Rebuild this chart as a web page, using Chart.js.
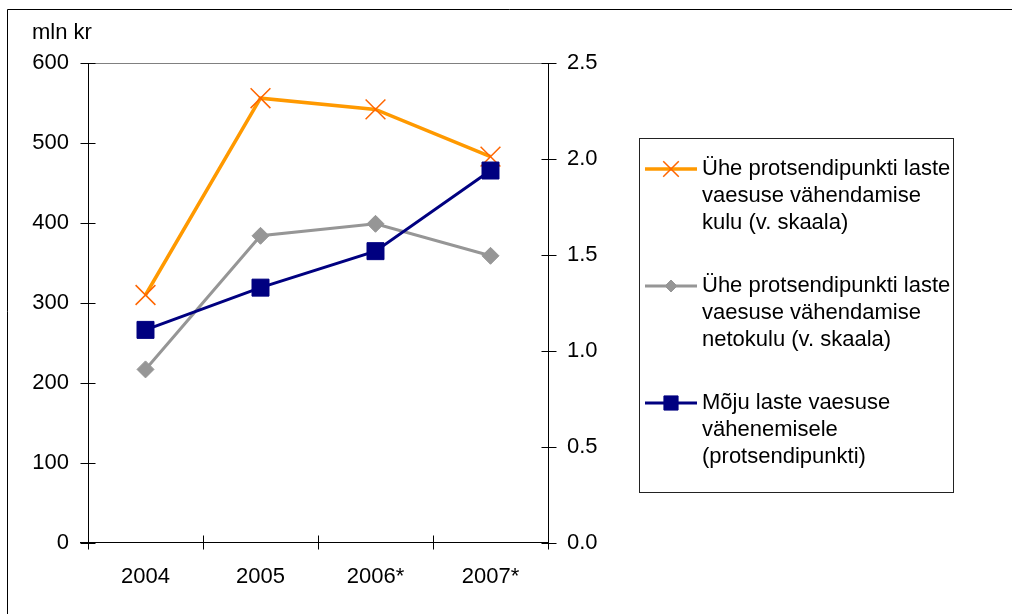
<!DOCTYPE html>
<html>
<head>
<meta charset="utf-8">
<script src="https://cdn.jsdelivr.net/npm/chart.js@4.4.0/dist/chart.umd.min.js"></script>
<style>
    html, body { margin: 0; padding: 0; background: #fff; }
    #wrap { width: 1012px; height: 614px; position: relative; }
</style>
</head>
<body>
<div id="wrap"><canvas id="chart" width="1012" height="614"></canvas></div>
<script>
// --- Data ---
const years = ['2004', '2005', '2006*', '2007*'];
const costValues = [310, 556, 542, 483];        // mln kr, left scale
const netCostValues = [217, 384, 399, 359];     // mln kr, left scale
const impactValues = [1.11, 1.33, 1.52, 1.94];  // percentage points, right scale
const leftTickValues = [0, 100, 200, 300, 400, 500, 600];
const rightTickValues = [0, 0.5, 1.0, 1.5, 2.0, 2.5];
const unitLabel = 'mln kr';
const legendLines = [
    ['Ühe protsendipunkti laste', 'vaesuse vähendamise', 'kulu (v. skaala)'],
    ['Ühe protsendipunkti laste', 'vaesuse vähendamise', 'netokulu (v. skaala)'],
    ['Mõju laste vaesuse', 'vähenemisele', '(protsendipunkti)']
];

const FONT = "'Liberation Sans', Arial, sans-serif";
const FONT_SIZE = 22;

// --- Layout constants ---
const PLOT = { left: 88, top: 63, right: 548, bottom: 543 };
const CANVAS_W = 1012, CANVAS_H = 614;
const RIGHT_AXIS_W = 60;

// Axis lines, crossing tick marks, plot top border, unit label, legend
const decorPlugin = {
    id: 'decor',
    beforeDatasetsDraw(chart) {
        const { ctx, chartArea, scales } = chart;
        ctx.save();
        ctx.lineWidth = 1;

        // top border of the plot area (grey)
        ctx.strokeStyle = '#808080';
        ctx.beginPath();
        ctx.moveTo(chartArea.left, chartArea.top + 0.5);
        ctx.lineTo(chartArea.right, chartArea.top + 0.5);
        ctx.stroke();

        ctx.strokeStyle = '#000';
        ctx.beginPath();
        // left axis + ticks
        const lx = Math.round(chartArea.left) + 0.5;
        ctx.moveTo(lx, chartArea.top);
        ctx.lineTo(lx, chartArea.bottom);
        leftTickValues.forEach(v => {
            const y = Math.round(scales.y.getPixelForValue(v)) + 0.5;
            ctx.moveTo(lx - 8, y);
            ctx.lineTo(lx + 7, y);
        });
        // right axis + ticks
        const rx = Math.round(chartArea.right) + 0.5;
        ctx.moveTo(rx, chartArea.top);
        ctx.lineTo(rx, chartArea.bottom + 6);
        rightTickValues.forEach(v => {
            const y = Math.round(scales.y1.getPixelForValue(v)) + 0.5;
            ctx.moveTo(rx - 7, y);
            ctx.lineTo(rx + 8, y);
        });
        // bottom axis + category boundary ticks
        const by = Math.round(chartArea.bottom) - 0.5;
        ctx.moveTo(chartArea.left - 8, by);
        ctx.lineTo(chartArea.right, by);
        const step = (chartArea.right - chartArea.left) / years.length;
        for (let i = 0; i <= years.length; i++) {
            const x = Math.round(chartArea.left + i * step) + 0.5;
            ctx.moveTo(x, by - 7);
            ctx.lineTo(x, by + 7);
        }
        ctx.stroke();
        ctx.restore();
    },
    afterDraw(chart) {
        const { ctx } = chart;
        ctx.save();

        // outer frame (left and top edges visible)
        ctx.strokeStyle = '#000';
        ctx.lineWidth = 1;
        ctx.beginPath();
        ctx.moveTo(7.5, CANVAS_H);
        ctx.lineTo(7.5, 9.5);
        ctx.lineTo(CANVAS_W, 9.5);
        ctx.stroke();

        // unit label
        ctx.fillStyle = '#000';
        ctx.font = `${FONT_SIZE}px ${FONT}`;
        ctx.textBaseline = 'middle';
        ctx.textAlign = 'left';
        ctx.fillText(unitLabel, 32, 33);

        // legend box
        const box = { x: 639.5, y: 138.5, w: 314, h: 354 };
        ctx.strokeStyle = '#222';
        ctx.strokeRect(box.x, box.y, box.w, box.h);

        const firstLineY = [169, 286, 403];
        const lineGap = 27;
        const markerSizes = [11, 6, 10];
        chart.data.datasets.forEach((ds, i) => {
            const y = firstLineY[i];
            ctx.strokeStyle = ds.borderColor;
            ctx.lineWidth = ds.borderWidth;
            ctx.beginPath();
            ctx.moveTo(645, y);
            ctx.lineTo(697, y);
            ctx.stroke();

            ctx.fillStyle = ds.pointBackgroundColor;
            ctx.strokeStyle = ds.pointBorderColor;
            ctx.lineWidth = ds.pointBorderWidth;
            Chart.helpers.drawPoint(ctx, {
                pointStyle: ds.pointStyle,
                radius: markerSizes[i],
                rotation: 0,
                borderWidth: ds.pointBorderWidth
            }, 671, y);

            ctx.fillStyle = '#000';
            ctx.font = `${FONT_SIZE}px ${FONT}`;
            ctx.textBaseline = 'middle';
            legendLines[i].forEach((t, k) => ctx.fillText(t, 702, y + k * lineGap));
        });
        ctx.restore();
    }
};

const ctx = document.getElementById('chart').getContext('2d');
new Chart(ctx, {
    type: 'line',
    data: {
        labels: years,
        datasets: [
            {
                label: legendLines[0].join(' '),
                data: costValues,
                yAxisID: 'y',
                borderColor: '#FF9900',
                borderWidth: 3.5,
                pointStyle: 'crossRot',
                pointRadius: 14,
                pointBorderColor: '#FF6600',
                pointBackgroundColor: '#FF6600',
                pointBorderWidth: 1.5,
                order: 2
            },
            {
                label: legendLines[1].join(' '),
                data: netCostValues,
                yAxisID: 'y',
                borderColor: '#969696',
                borderWidth: 3,
                pointStyle: 'rectRot',
                pointRadius: 8.5,
                pointBorderColor: '#969696',
                pointBackgroundColor: '#969696',
                pointBorderWidth: 1,
                order: 1
            },
            {
                label: legendLines[2].join(' '),
                data: impactValues,
                yAxisID: 'y1',
                borderColor: '#000080',
                borderWidth: 3,
                pointStyle: 'rect',
                pointRadius: 12,
                pointBorderColor: '#000080',
                pointBackgroundColor: '#000080',
                pointBorderWidth: 1,
                order: 0
            }
        ]
    },
    options: {
        responsive: false,
        devicePixelRatio: 1,
        animation: false,
        layout: {
            padding: { left: 0, top: PLOT.top, right: CANVAS_W - PLOT.right - RIGHT_AXIS_W, bottom: 0 }
        },
        plugins: {
            legend: { display: false },
            tooltip: { enabled: false }
        },
        elements: { line: { tension: 0 } },
        scales: {
            x: {
                type: 'category',
                offset: true,
                grid: { display: false, drawTicks: false },
                border: { display: false },
                ticks: { color: '#000', font: { family: FONT, size: FONT_SIZE }, padding: 21, maxRotation: 0 },
                afterFit(scale) { scale.height = CANVAS_H - PLOT.bottom; }
            },
            y: {
                position: 'left',
                min: 0,
                max: 600,
                grid: { display: false, drawTicks: false },
                border: { display: false },
                ticks: { stepSize: 100, color: '#000', font: { family: FONT, size: FONT_SIZE }, padding: 19 },
                afterFit(scale) { scale.width = PLOT.left; }
            },
            y1: {
                position: 'right',
                min: 0,
                max: 2.5,
                grid: { display: false, drawTicks: false },
                border: { display: false },
                ticks: {
                    stepSize: 0.5,
                    color: '#000',
                    font: { family: FONT, size: FONT_SIZE },
                    padding: 19,
                    callback: v => Number(v).toFixed(1)
                },
                afterFit(scale) { scale.width = RIGHT_AXIS_W; }
            }
        }
    },
    plugins: [decorPlugin]
});
</script>
</body>
</html>
